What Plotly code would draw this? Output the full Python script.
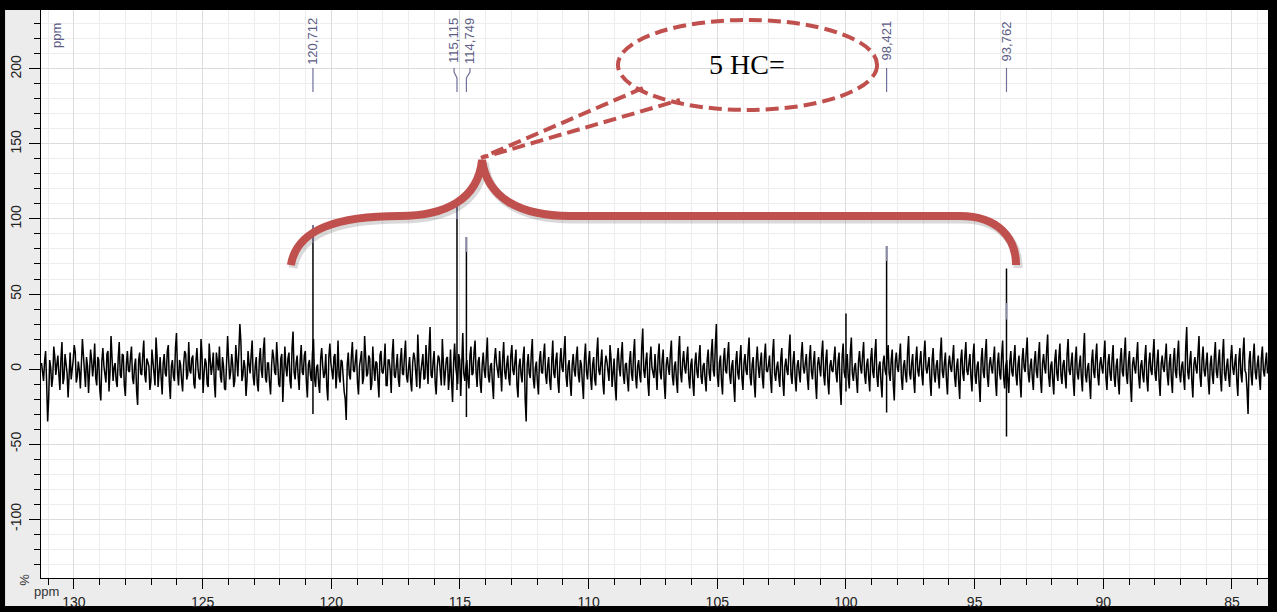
import numpy as np
import plotly.graph_objects as go

# ---------------- data ----------------
ppm_first, ppm_last = 131.26, 83.62   # sampling window of the trace
# even samples of the trace
noise_a = [
    4, -8, 12, -35, 6, -12, 15, -4, 9, -14, 18, -6, 3, -19, 11, -2, 16, -9, 5, -13, 20, -7, 8, -16, 13,
    -5, 17, -11, 6, -21, 14, -3, 10, -15, 22, -8, 4, -12, 18, -6, 9, -18, 12, -2, 15, -10, 7, -24, 11, -4,
    19, -9, 5, -14, 13, -1, 21, -12, 8, -17, 10, -5, 16, -20, 6, -8, 24, -11, 3, -15, 12, -7, 18, -3, 9,
    -13, 14, -6, 20, -16, 7, -10, 17, -4, 11, -19, 5, 15, -9, 2, -14, 22, -7, 10, -12, 16, -5, 30, -8, 6,
    -18, 12, -3, 19, -11, 8, -15, 14, -6, 21, -9, 4, -17, 13, -2, 18, -10, 7, -22, 15, -5, 11, -13, 25, -7,
    9, -14, 16, -4, 12, -19, 6, -8, 20, -12, 3, -16, 14, -6, 10, -21, 17, -3, 8, -13, 19, -9, 5, -15, -34,
    11, -7, 18, -2, 13, -17, 7, -10, 22, -5, 9, -14, 15, -8, 4, -19, 12, -3, 17, -11, 6, -16, 20, -6, 10,
    -12, 14, -4, 19, -9, 8, -15, 11, -2, 23, -13, 5, -7, 16, -10, 28, -6, 12, -17, 9, -3, 20, -11, 7, -14,
    13, -22, 17, -5, 10, -18, 24, -8, 6, -13, 15, -3, 19, -12, 8, -16, 11, -6, 21, -9, 4, -20, 14, -2, 12,
    -15, 18, -7, 9, -11, 16, -4, 13, -19, 7, -9, 15, -35, 10, -6, 20, -13, 5, -17, 12, -3, 17, -10, 8, -14,
    19, -6, 11, -16, 14, -2, 22, -12, 6, -18, 10, -5, 15, -9, 3, -20, 17, -7, 12, -14, 8, -11, 21, -4, 13,
    -17, 9, -3, 16, -12, 7, -21, 14, -5, 18, -10, 4, -15, 12, -8, 20, -13, 6, -9, 27, -6, 11, -18, 15, -2,
    10, -14, 17, -7, 13, -20, 8, -4, 19, -11, 5, -16, 22, -9, 12, -3, 15, -13, 7, -18, 11, -6, 16, -10, 4,
    -15, 13, -8, 20, -5, 30, -12, 9, -17, 14, -3, 18, -10, 6, -22, 12, -7, 16, -14, 10, -4, 21, -11, 8, -19,
    15, -6, 11, -13, 17, -2, 9, -16, 20, -8, 5, -12, 14, -18, 7, -4, 23, -10, 12, -15, 6, -9, 18, -3, 10,
    -14, 16, -7, 12, -20, 8, -5, 19, -11, 13, -17, 6, -2, 15, -9, 11, -24, 17, -6, 10, -13, 21, -8, 4, -16,
    12, -3, 18, -10, 7, -15, 14, -6, 20, -12, 5, -19, 9, -4, 16, -8, 13, -21, 11, -2, 17, -14, 6, -9, 22,
    -7, 10, -16, 15, -5, 12, -11, 19, -3, 8, -18, 14, -9, 6, -13, 21, -6, 11, -17, 9, -2, 16, -12, 7, -20,
    13, -8, 18, -4, 10, -15, 17, -10, 5, -22, 14, -6, 20, -12, 8, -3, 15, -18, 11, -7, 19, -13, 6, -16, 12,
    -5, 16, -11, 9, -19, 14, -2, 21, -9, 7, -14, 12, -6, 18, -16, 10, -3, 23, -12, 5, -17, 13, -8, 17, -10,
    6, -13, 20, -4, 11, -18, 15, -7, 9, -15, 24, -9, 4, -20, 13, -6, 17, -11, 8, -3, 19, -14, 10, -8, 16,
    -12, 7, -17, 14, -5, 21, -10, 12, -22, 8, -3, 18, -13, 6, -9, 16, -15, 11, -4, 20, -8, 13, -18, 9, -2,
    17, -11, 10, -16, 14, -6, 19, -9, 5, -14, 28, -7, 12, -19, 8, -3, 22, -12, 15, -5, 11, -17, 9, -10, 18,
    -6, 13, -15, 20, -8, 7, -12, 16, -4, 10, -18, 14, -9, 21, -3, -30, 12, -11, 17, -7, 9, -14, 15, -5, 11,
]
# odd samples of the trace (between the even ones)
noise_b = [
    -2, 5, -9, -20, 1, -6, 8, 3, -4, 7, -10, 10, -3, 2, -7, 6, 11, -5, -1, 4, 9, -12, 2, -3, 6,
    3, -6, 8, -14, 5, 2, -9, 12, -2, 6, 1, -8, 7, -4, 10, -11, 3, -1, 8, -6, 2, -15, 6, -3, 9,
    -4, 7, 2, -8, 5, -11, 9, 1, -6, 4, -3, 12, -9, 2, -5, 14, -2, 6, -8, 3, 10, -4, -1, 7, -10,
    5, 1, -7, 9, -3, 4, -12, 6, 2, -9, 11, -1, -5, 8, -13, 4, 7, -2, 3, -8, 6, 12, 18, -4, 1,
    -7, 3, 9, -5, 2, -10, 6, -1, 13, -6, 4, -9, 2, 8, -4, 5, -12, 10, -3, 1, 7, -8, 14, -2, 4,
    -5, 6, -2, 9, -8, 3, -4, 11, -6, 1, -10, 7, 2, -3, -12, 8, 4, -7, 10, -2, -5, 6, -9, -20, 3,
    -4, 8, -1, 6, -9, 2, 12, -6, 4, -3, 7, -10, 1, 5, -8, 9, -2, 3, -11, 6, -1, 10, -4, 2, -7,
    6, -3, 9, -5, 1, -8, 4, 7, -12, 3, -2, 10, -6, 2, 14, -4, 5, -9, 1, 7, -11, 4, -2, 8, -5,
    -8, 4, 2, -10, 6, 12, -3, 1, -7, 9, -4, 11, -2, 5, -9, 3, -1, 8, -5, 2, -10, 6, 4, -6, 1,
    7, -2, 3, -6, 9, -1, 5, -11, 2, -4, 8, -20, 3, -3, 10, -7, 1, -9, 6, -2, 9, -4, 2, -8, 5,
    -3, 6, -8, 4, 1, 11, -5, 2, -9, 3, -1, 8, -4, 6, -10, 7, -2, 5, -6, 3, -7, 10, -1, 4, -9,
    2, 5, -8, 7, -2, -11, 6, 1, 9, -4, 3, -7, 5, -3, 10, -5, 2, -4, 14, -1, 5, -9, 6, 1, -6,
    -4, 8, -2, 6, -9, 3, 1, 10, -5, 2, -8, 11, -3, 5, 1, 7, -6, 3, -9, 4, -2, 8, -5, 2, -7,
    6, -3, 10, -1, 16, -5, 4, -8, 6, -1, 9, -4, 2, -11, 5, -3, 7, -6, 4, -1, 11, -5, 3, -9, 5,
    2, 4, -6, 8, -1, 3, -7, 10, -3, 1, -5, 7, -8, 2, -1, 12, -4, 5, -6, 2, -3, 9, 1, 4, -6,
    7, -2, 5, -9, 3, 1, 10, -4, 6, -8, 2, -1, 7, -3, 5, -12, 8, -2, 4, -6, 11, -3, 1, -7, 5,
    1, 9, -4, 3, -6, 7, -2, 10, -5, 2, -9, 4, -1, 8, -3, 6, -10, 5, 1, 8, -6, 2, -4, 11, -3,
    4, -7, 6, -1, 5, -4, 9, 1, 3, -8, 6, -3, 2, -5, 10, -2, 4, -7, 3, 1, 7, -5, 2, -9, 6,
    -3, 8, -1, 4, -6, 9, -4, 2, -10, 6, -2, 10, -5, 3, 1, 7, -8, 4, -3, 9, -6, 2, -7, 5, -2,
    7, -4, 3, -8, 6, 1, 11, -3, 2, -6, 5, -2, 9, -7, 4, 1, 12, -5, 2, -8, 6, -3, 8, -4, 3,
    -5, 10, -1, 4, -8, 6, -3, 3, -6, 11, -4, 1, -9, 5, -2, 8, -4, 3, 1, 9, -6, 4, -3, 7, -5,
    2, -8, 6, -2, 10, -4, 5, -10, 3, 1, 8, -5, 2, -4, 7, -7, 4, -1, 9, -3, 5, -8, 3, 1, 8,
    -4, 4, -7, 6, -2, 9, -3, 2, -6, 14, -2, 5, -8, 3, 1, 10, -5, 6, -1, 4, -7, 3, -4, 8, -2,
    5, -6, 9, -3, 2, -5, 7, 1, 4, -8, 6, -3, 10, -1, -14, 5, -4, 8, -2, 3, -6, 7, -1, 4, -3,
]

peak_ppm = [120.712, 115.115, 114.749, 100.0, 98.421, 93.762]
peak_top = [96, 110, 88, 37, 82, 67]
peak_bottom = [-30, -14, -32, -15, -29, -45]

# peak-pick marks drawn over the peak tips
mark_ppm = [120.712, 115.115, 114.749, 98.421, 93.762]
mark_hi = [96, 110, 88, 82, 44]
mark_lo = [84, 100, 78, 72, 33]

# peak labels
label_text = ["120,712", "115,115", "114,749", "98,421", "93,762"]
label_ppm = [120.712, 115.23, 114.61, 98.421, 93.762]
label_peak = [120.712, 115.115, 114.749, 98.421, 93.762]

x_ticks = [130, 125, 120, 115, 110, 105, 100, 95, 90, 85]
y_ticks = [200, 150, 100, 50, 0, -50, -100]
y_ticktext = ["200", "150", "100", "50", "0", "-50", "-100"]

x_range = [131.28, 83.60]
y_range = [-139.3, 239.3]

RED = "#c0504d"
LABEL_COL = "#5c5c86"

# ---------------- figure ----------------
fig = go.Figure()

trace_y = np.empty(len(noise_a) + len(noise_b))
trace_y[0::2] = noise_a
trace_y[1::2] = noise_b
x_trace = np.linspace(ppm_first, ppm_last, len(trace_y))
fig.add_trace(go.Scatter(x=x_trace, y=trace_y, mode="lines",
                         line=dict(color="black", width=1.5), hoverinfo="skip", showlegend=False))

px_, py_ = [], []
for p, t, b in zip(peak_ppm, peak_top, peak_bottom):
    px_ += [p, p, None]
    py_ += [b, t, None]
fig.add_trace(go.Scatter(x=px_, y=py_, mode="lines", line=dict(color="black", width=1.5),
                         hoverinfo="skip", showlegend=False))

mx_, my_ = [], []
for p, h, l in zip(mark_ppm, mark_hi, mark_lo):
    mx_ += [p, p, None]
    my_ += [l, h, None]
fig.add_trace(go.Scatter(x=mx_, y=my_, mode="lines", line=dict(color="#8a8aae", width=1.5),
                         hoverinfo="skip", showlegend=False))

# label leader lines
lx_, ly_ = [], []
for lp, pp in zip(label_ppm, label_peak):
    lx_ += [lp, lp, pp, pp, None]
    ly_ += [200.7, 198.0, 194.0, 184.7, None]
fig.add_trace(go.Scatter(x=lx_, y=ly_, mode="lines", line=dict(color="#70709a", width=1.2),
                         hoverinfo="skip", showlegend=False))

annotations = []
for t, lp in zip(label_text, label_ppm):
    annotations.append(dict(x=lp, y=218.7, xref="x", yref="y", text=t, showarrow=False,
                            textangle=-90, xanchor="center", yanchor="middle",
                            font=dict(family="Arial, Liberation Sans, sans-serif", size=13, color=LABEL_COL)))

annotations += [
    dict(x=0.013, y=0.956, xref="paper", yref="paper", text="ppm", showarrow=False, textangle=-90,
         xanchor="center", yanchor="middle",
         font=dict(family="Arial, Liberation Sans, sans-serif", size=13, color=LABEL_COL)),
    dict(x=-0.013, y=-0.003, xref="paper", yref="paper", text="%", showarrow=False, textangle=-90,
         xanchor="center", yanchor="middle",
         font=dict(family="Arial, Liberation Sans, sans-serif", size=13, color="#333")),
    dict(x=0.0041, y=-0.0246, xref="paper", yref="paper", text="ppm", showarrow=False,
         xanchor="center", yanchor="middle",
         font=dict(family="Arial, Liberation Sans, sans-serif", size=13, color="#333")),
    dict(x=103.84, y=202.7, xref="x", yref="y", text="5 HC=", showarrow=False,
         xanchor="center", yanchor="middle",
         font=dict(family="Liberation Serif, Times New Roman, serif", size=28, color="black")),
]

brace_path = ("M 121.57,69.3 C 121.33,94 119.66,102 117.33,102 "
              "C 115.58,102 114.30,112.7 114.14,139.3 "
              "C 113.95,114 112.67,102 110.72,102 "
              "L 95.57,102 C 94.09,102 93.39,87.3 93.39,69.3")
shadow_path = ("M 121.49,67.3 C 121.25,92 119.58,100 117.25,100 "
               "C 115.50,100 114.22,110.7 114.06,137.3 "
               "C 113.87,112 112.59,100 110.64,100 "
               "L 95.49,100 C 94.01,100 93.31,85.3 93.31,67.3")

shapes = [
    dict(type="rect", xref="paper", yref="paper", x0=-0.0293, x1=1.0, y0=-0.0493, y1=1.0,
         fillcolor="#ececec", line=dict(width=0), layer="below"),
    dict(type="rect", xref="paper", yref="paper", x0=0, x1=1, y0=0, y1=1,
         fillcolor="white", line=dict(width=0), layer="below"),
    dict(type="path", xref="x", yref="y", path=shadow_path,
         line=dict(color="rgba(0,0,0,0.15)", width=9)),
    dict(type="path", xref="x", yref="y", path=brace_path,
         line=dict(color=RED, width=8)),
    dict(type="circle", xref="x", yref="y", x0=108.86, x1=98.79, y0=172.7, y1=232.7,
         line=dict(color=RED, width=4, dash="13px,6px")),
    dict(type="path", xref="x", yref="y", path="M 107.89,187.3 L 114.18,140.7 L 106.45,179.3",
         line=dict(color=RED, width=4, dash="13px,6px")),
]

axis_font = dict(family="Arial, Liberation Sans, sans-serif", size=14, color="#222")

fig.update_layout(
    width=1277, height=612, autosize=False,
    margin=dict(l=41, r=9, t=10, b=34, pad=0, autoexpand=False),
    paper_bgcolor="black", plot_bgcolor="white",
    showlegend=False,
    shapes=shapes, annotations=annotations,
    xaxis=dict(range=x_range, tickmode="array", tickvals=x_ticks, ticktext=[str(v) for v in x_ticks],
               automargin=False, ticklabelstandoff=1,
               ticks="outside", ticklen=10, tickwidth=1, tickcolor="black",
               showline=True, linecolor="black", linewidth=1, mirror=False,
               showgrid=True, gridcolor="#dcdcdc", gridwidth=1, zeroline=False,
               tickfont=axis_font,
               minor=dict(dtick=1, tick0=0, ticks="outside", ticklen=6, tickcolor="black",
                          showgrid=True, gridcolor="#ededed")),
    yaxis=dict(range=y_range, tickmode="array", tickvals=y_ticks, ticktext=y_ticktext,
               automargin=False, ticklabelstandoff=2,
               ticks="outside", ticklen=11, tickwidth=1, tickcolor="black", tickangle=-90,
               showline=True, linecolor="black", linewidth=1, mirror=False,
               showgrid=True, gridcolor="#dcdcdc", gridwidth=1, zeroline=False,
               tickfont=axis_font,
               minor=dict(dtick=10, tick0=0, ticks="outside", ticklen=6, tickcolor="black",
                          showgrid=True, gridcolor="#ededed")),
)

fig.write_html("out.html", config={"displayModeBar": False},
               post_script="document.body.style.margin='0';document.body.style.overflow='hidden';")
